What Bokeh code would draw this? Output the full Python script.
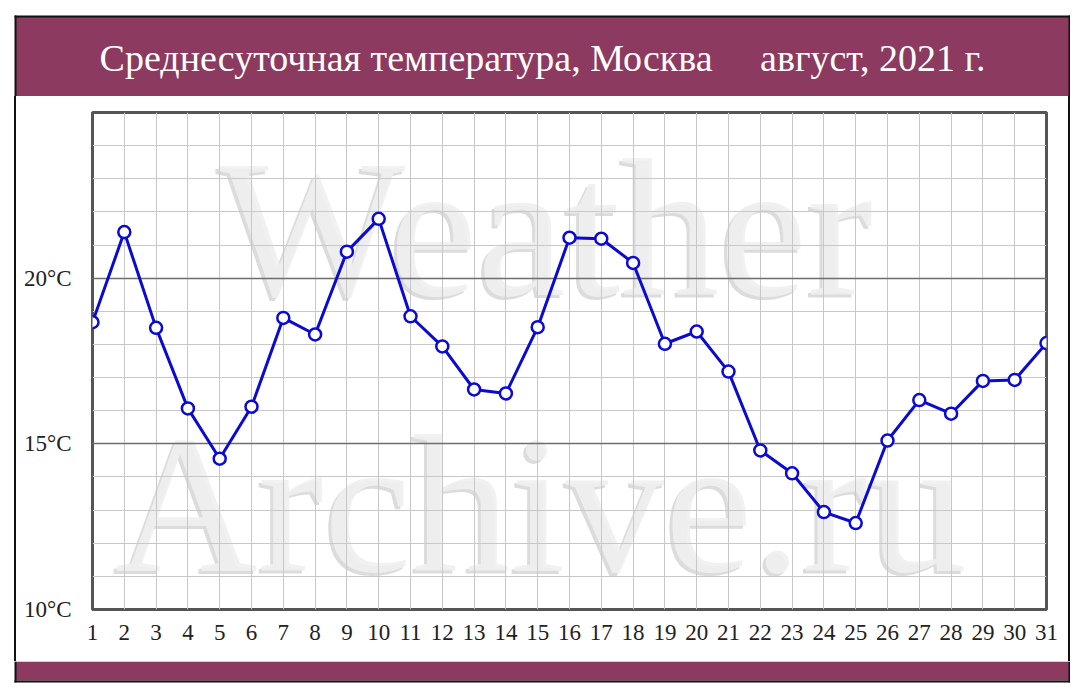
from bokeh.plotting import figure
from bokeh.layouts import column, row
from bokeh.models import FixedTicker, Range1d, ColumnDataSource
from bokeh.core.properties import value
from bokeh.embed import file_html
from bokeh.resources import INLINE

days = list(range(1, 32))
temps = [18.67, 21.39, 18.50, 16.07, 14.55, 16.12, 18.80, 18.30, 20.80, 21.79,
         18.85, 17.94, 16.64, 16.52, 18.52, 21.22, 21.19, 20.46, 18.02, 18.39,
         17.18, 14.80, 14.11, 12.94, 12.61, 15.10, 16.32, 15.91, 16.90, 16.93, 18.04]
y_major = [10, 15, 20]
y_minor = list(range(10, 26))
y_labels = {10: "10°C", 15: "15°C", 20: "20°C"}
x_labels = {d: str(d) for d in days}
title_text = "Среднесуточная температура, Москва" + "\u00a0" * 5 + "август, 2021 г."
watermark_1 = "Weather"
watermark_2 = "Archive.ru"

MAROON = "#8c3a60"
EDGE = "#111111"


def blank(width, height, xr, yr, fill="white"):
    f = figure(width=width, height=height, output_backend="svg", toolbar_location=None,
               x_range=Range1d(*xr), y_range=Range1d(*yr), x_axis_type=None,
               y_axis_type=None, min_border=0, min_border_left=0, min_border_right=0,
               min_border_top=0, min_border_bottom=0)
    f.grid.visible = False
    f.outline_line_color = None
    f.background_fill_color = fill
    f.border_fill_color = fill
    return f


# ---- header (page coords, y downward) ----
hdr = blank(1070, 96, (0, 1070), (96, 0))
hdr.quad(left=[15], right=[1069], top=[16], bottom=[96], fill_color=MAROON, line_color=None)
hdr.quad(left=[14, 14, 1068], right=[1070, 16, 1070], top=[15, 15, 15], bottom=[17, 96, 96],
         fill_color=EDGE, line_color=None)
hdr.text(x=[542], y=[57], text=[title_text], text_font=value("Liberation Serif"),
         text_font_size="38px", text_color="white", text_align="center",
         text_baseline="middle")

# ---- main plot ----
p = figure(width=1070, height=565, output_backend="svg", toolbar_location=None,
           x_range=Range1d(1, 31), y_range=Range1d(10, 25),
           min_border_left=92, min_border_right=24, min_border_top=16,
           min_border_bottom=52)
p.background_fill_color = "white"
p.border_fill_alpha = 0
p.styles = {"background": "linear-gradient(to right, white 0px, white 14px, #111111 14px, "
                          "#111111 16px, white 16px, white 1068px, #111111 1068px, "
                          "#111111 1070px)"}
p.outline_line_color = "#555555"
p.outline_line_width = 3

p.xaxis.ticker = FixedTicker(ticks=days)
p.xaxis.major_label_overrides = x_labels
p.yaxis.ticker = FixedTicker(ticks=y_major)
p.yaxis.major_label_overrides = y_labels
for ax in (p.xaxis[0], p.yaxis[0]):
    ax.axis_line_color = None
    ax.major_tick_line_color = None
    ax.minor_tick_line_color = None
    ax.major_label_text_font = "Liberation Serif"
    ax.major_label_text_font_size = "23px"
    ax.major_label_text_color = "#222222"
p.xaxis.major_label_standoff = 9
p.yaxis.major_label_standoff = 15

p.xgrid.ticker = FixedTicker(ticks=days)
p.xgrid.grid_line_color = "#c8c8c8"
p.xgrid.grid_line_width = 1
p.ygrid.ticker = FixedTicker(ticks=y_major, minor_ticks=y_minor)
p.ygrid.grid_line_color = "#6e6e6e"
p.ygrid.grid_line_width = 1.5
p.ygrid.minor_grid_line_color = "#c8c8c8"
p.ygrid.minor_grid_line_width = 1

wm = ColumnDataSource(dict(x=[15.25, 15.1], y=[21.50, 13.17], t=[watermark_1, watermark_2]))
p.text(x="x", y="y", text="t", source=wm, text_font=value("Liberation Serif"),
       text_font_size="198px", text_align="center", text_baseline="alphabetic",
       text_color="#8a8a8a", text_alpha=0.3, x_offset=-3, y_offset=3, level="image")
p.text(x="x", y="y", text="t", source=wm, text_font=value("Liberation Serif"),
       text_font_size="198px", text_align="center", text_baseline="alphabetic",
       text_color="#f0f0f0", text_alpha=0.9, level="image")

src = ColumnDataSource(dict(day=days, t=temps))
p.line(x="day", y="t", source=src, line_color="#0a0ad2", line_width=3)
p.scatter(x="day", y="t", source=src, size=12, fill_color="white",
          line_color="#0a0ad2", line_width=2.5)

# ---- footer (local coords, y downward) ----
ftr = blank(1070, 22, (0, 1070), (22, 0))
ftr.quad(left=[15], right=[1069], top=[0], bottom=[19], fill_color=MAROON, line_color=None)
ftr.quad(left=[14, 14, 1068], right=[1070, 16, 1070], top=[19, 0, 0], bottom=[21, 21, 21],
         fill_color=EDGE, line_color=None)

layout = column(hdr, row(p, spacing=0), ftr, spacing=0)
open("out.html", "w").write(file_html(layout, INLINE))
